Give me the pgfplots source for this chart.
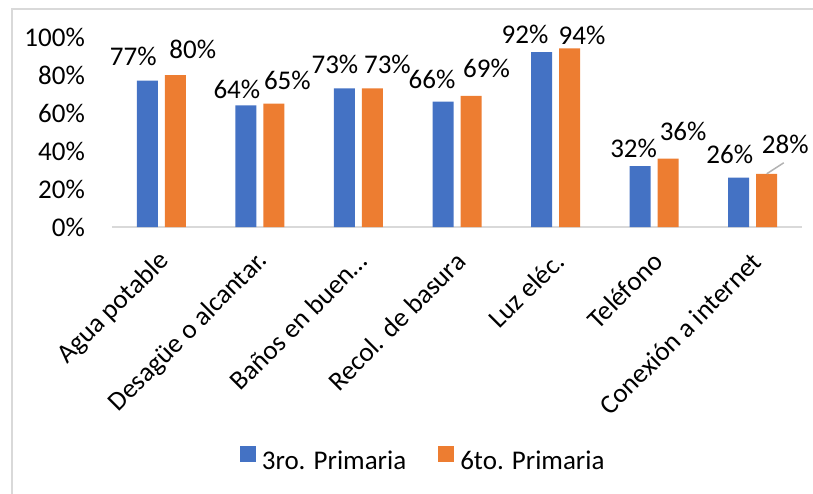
\documentclass[border=0pt]{standalone}
\usepackage{pgfplots}
\pgfplotsset{compat=1.18}
\usepackage{pgfplotstable}
\usepackage{fontspec}
\setmainfont{Carlito}
\definecolor{cblue}{HTML}{4472C4}
\definecolor{corange}{HTML}{ED7D31}
\definecolor{cframe}{HTML}{D9D9D9}

\pgfplotstableread{
x y dx dy
0 77 -14 24
1 64 -9 16
2 73 -9.5 24
3 66 -11 22
4 92 -16.5 18
5 32 -6.5 18
6 26 -9 23.5
}\tercero
\pgfplotstableread{
x y dx dy
0 80 17.5 25.5
1 65 13.5 23
2 73 15 24
3 69 15.5 27
4 94 12.5 13
5 36 15 27
6 28 18.5 29
}\sexto

\begin{document}
\fontsize{27}{32}\selectfont
\begin{tikzpicture}[x=1pt,y=1pt,font=\fontsize{27}{32}\selectfont]
\draw[cframe, line width=2pt] (12,-20) -- (12,483.5) -- (840,483.5);
\begin{axis}[
  at={(112pt,266pt)}, anchor=south west,
  scale only axis, width=690pt, height=190pt,
  xmin=-0.5, xmax=6.5, ymin=0, ymax=100,
  ytick={0,20,...,100},
  /pgf/number format/assume math mode=true,
  yticklabel={\pgfmathprintnumber{\tick}\%},
  yticklabel style={anchor=east, inner sep=0pt, xshift=-27pt},
  xtick={0,...,6},
  xticklabels={Agua potable, Desagüe o alcantar., Baños en buen…, Recol. de basura, Luz eléc., Teléfono, Conexión a internet},
  xticklabel style={yshift=-30pt, xshift=4pt, rotate=45, anchor=east, inner sep=0pt},
  major tick length=0pt,
  axis lines*=left,
  axis line style={-},
  x axis line style={draw=cframe, line width=1.5pt},
  y axis line style={draw=none},
  ybar, bar width=21pt,
  visualization depends on={\thisrow{dx} \as \labdx},
  visualization depends on={\thisrow{dy} \as \labdy},
  nodes near coords={\pgfmathprintnumber{\pgfplotspointmeta}\%},
  nodes near coords style={anchor=center, xshift=\labdx pt, yshift=\labdy pt, text=black, inner sep=0pt},
  legend style={at={(0.451,-1.23)}, anchor=center, draw=none, fill=none, legend columns=2,
    /tikz/every even column/.append style={column sep=30pt},
    /tikz/every odd column/.append style={column sep=4pt}},
  legend cell align=left,
  legend image code/.code={\fill[#1] (0pt,0pt) rectangle (16pt,16.5pt);},
]
\addplot[fill=cblue, draw=none, bar shift=-14pt] table[x=x, y=y] {\tercero};
\addlegendentry{3ro. Primaria}
\addplot[fill=corange, draw=none, bar shift=14pt] table[x=x, y=y] {\sexto};
\addlegendentry{6to. Primaria}
\draw[gray!60, line width=1.5pt] ([xshift=14pt]axis cs:6,28) -- ([xshift=31pt,yshift=11pt]axis cs:6,28);
\end{axis}
\pgfresetboundingbox
\path[use as bounding box] (0,0) rectangle (813,493);
\end{tikzpicture}
\end{document}
